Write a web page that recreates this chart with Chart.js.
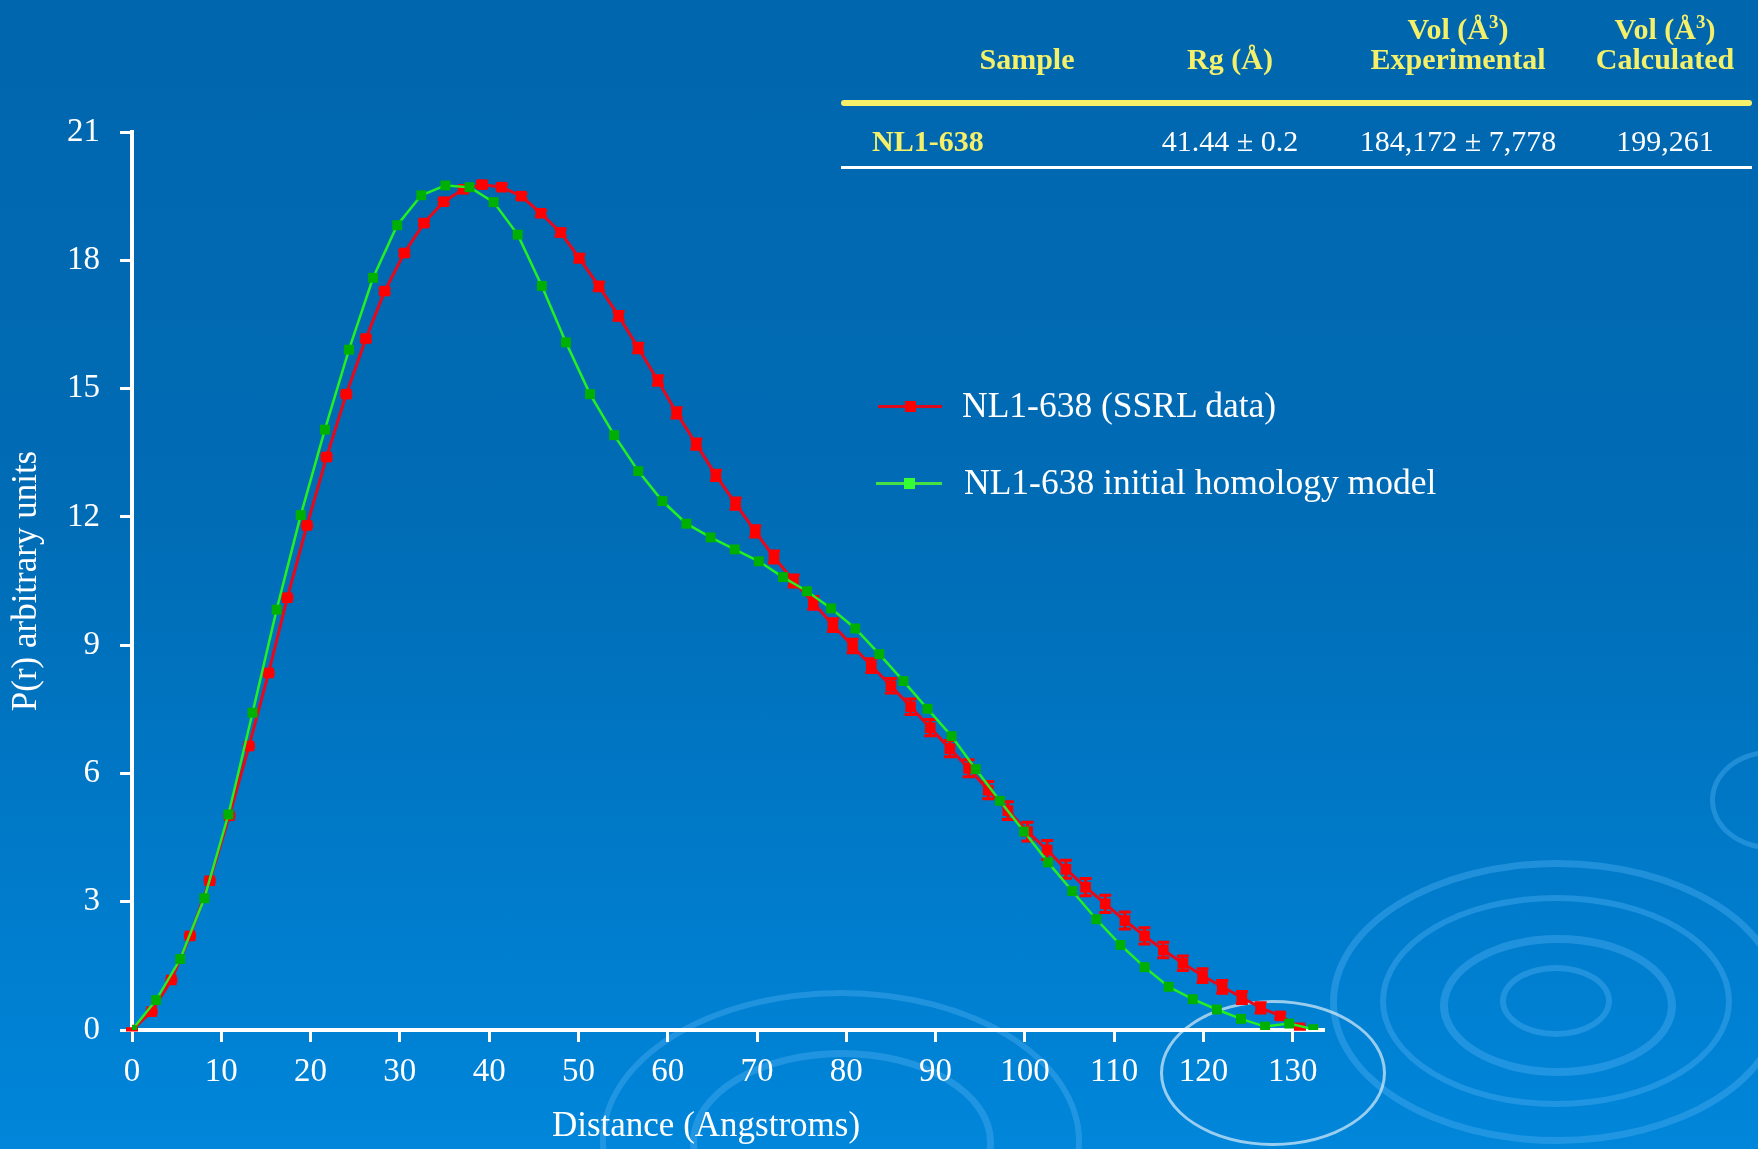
<!DOCTYPE html>
<html>
<head>
<meta charset="utf-8">
<script src="https://cdn.jsdelivr.net/npm/chart.js@4.4.0/dist/chart.umd.min.js"></script>
<style>
  body { margin: 0; }
  #wrap {
    position: relative; width: 1758px; height: 1149px; overflow: hidden;
    background: linear-gradient(180deg, #0066ae 0%, #006cb5 45%, #0086da 100%);
    font-family: "Liberation Serif", "DejaVu Serif", serif;
  }
  .ring { position: absolute; border-radius: 50%; border-style: solid; border-color: rgba(70, 170, 240, 0.45); }
  canvas { position: absolute; left: 0; top: 0; }
  .cell { position: absolute; font-size: 30px; line-height: 30px; white-space: nowrap; text-align: center; }
  .hd { color: #f4f06a; font-weight: bold; }
  .val { color: #fff; }
  .leg { position: absolute; color: #fff; font-size: 35.5px; line-height: 35px; white-space: nowrap; }
</style>
</head>
<body>
<div id="wrap">
  <!-- background ripples -->
  <div class="ring" style="left:1330px;top:860px;width:440px;height:270px;border-width:7px"></div>
  <div class="ring" style="left:1380px;top:895px;width:340px;height:200px;border-width:6px"></div>
  <div class="ring" style="left:1440px;top:935px;width:220px;height:125px;border-width:8px"></div>
  <div class="ring" style="left:1500px;top:965px;width:100px;height:60px;border-width:6px"></div>
  <div class="ring" style="left:600px;top:990px;width:470px;height:290px;border-width:6px"></div>
  <div class="ring" style="left:690px;top:1050px;width:290px;height:170px;border-width:7px"></div>
  <div class="ring" style="left:1160px;top:1000px;width:220px;height:140px;border-width:3px;border-color:rgba(255,255,255,0.6)"></div>
  <div class="ring" style="left:1710px;top:750px;width:110px;height:90px;border-width:5px"></div>

  <canvas id="c" width="1758" height="1149"></canvas>

  <!-- table -->
  <div class="cell hd" style="left:1358px;top:7px;width:200px">Vol (Å<span style="font-size:19px;vertical-align:11px">3</span>)</div>
  <div class="cell hd" style="left:1565px;top:7px;width:200px">Vol (Å<span style="font-size:19px;vertical-align:11px">3</span>)</div>
  <div class="cell hd" style="left:927px;top:44px;width:200px">Sample</div>
  <div class="cell hd" style="left:1130px;top:44px;width:200px">Rg (Å)</div>
  <div class="cell hd" style="left:1358px;top:44px;width:200px">Experimental</div>
  <div class="cell hd" style="left:1565px;top:44px;width:200px">Calculated</div>
  <div style="position:absolute;left:841px;top:100px;width:911px;height:6px;background:#f4f06a;border-radius:3px"></div>
  <div class="cell hd" style="left:872px;top:126px;text-align:left">NL1-638</div>
  <div class="cell val" style="left:1130px;top:126px;width:200px">41.44 ± 0.2</div>
  <div class="cell val" style="left:1358px;top:126px;width:200px">184,172 ± 7,778</div>
  <div class="cell val" style="left:1565px;top:126px;width:200px">199,261</div>
  <div style="position:absolute;left:841px;top:166px;width:911px;height:3px;background:#fff"></div>

  <!-- legend -->
  <div style="position:absolute;left:878px;top:405px;width:64px;height:3px;background:#dd0a1e"></div>
  <div style="position:absolute;left:905px;top:401px;width:11px;height:11px;background:#ff0000"></div>
  <div class="leg" id="leg0" style="left:962px;top:388px"></div>
  <div style="position:absolute;left:876px;top:482px;width:66px;height:3px;background:#44e044"></div>
  <div style="position:absolute;left:904px;top:478px;width:11px;height:11px;background:#33ff33"></div>
  <div class="leg" id="leg1" style="left:964px;top:465px"></div>
</div>

<script>
// P(r) distance distribution
const seriesNames = ['NL1-638 (SSRL data)', 'NL1-638 initial homology model'];

// SSRL data (red) with error bars
const distRed = [0, 2.2, 4.4, 6.5, 8.7, 10.9, 13.1, 15.3, 17.4, 19.6, 21.8, 24.0, 26.2, 28.3, 30.5,
  32.7, 34.9, 37.1, 39.2, 41.4, 43.6, 45.8, 48.0, 50.1, 52.3, 54.5, 56.7, 58.9, 61.0, 63.2,
  65.4, 67.6, 69.8, 71.9, 74.1, 76.3, 78.5, 80.7, 82.8, 85.0, 87.2, 89.4, 91.6, 93.7, 95.9,
  98.1, 100.3, 102.5, 104.6, 106.8, 109.0, 111.2, 113.4, 115.5, 117.7, 119.9, 122.1, 124.3, 126.4, 128.6, 130.8];
const prRed = [0, 0.43, 1.17, 2.20, 3.49, 5.01, 6.64, 8.35, 10.11, 11.80, 13.40, 14.87, 16.17, 17.28, 18.17,
  18.87, 19.37, 19.66, 19.77, 19.71, 19.50, 19.10, 18.65, 18.05, 17.39, 16.70, 15.95, 15.19, 14.43, 13.70,
  12.97, 12.31, 11.66, 11.06, 10.50, 9.99, 9.47, 8.98, 8.52, 8.05, 7.56, 7.07, 6.58, 6.12, 5.61,
  5.13, 4.64, 4.21, 3.76, 3.34, 2.95, 2.56, 2.20, 1.87, 1.56, 1.27, 1.01, 0.76, 0.52, 0.33, 0.05];
const errRed = [0.03, 0.03, 0.03, 0.03, 0.03, 0.03, 0.03, 0.03, 0.03, 0.03, 0.04, 0.04, 0.05, 0.05, 0.05,
  0.05, 0.05, 0.05, 0.06, 0.06, 0.06, 0.07, 0.08, 0.09, 0.10, 0.10, 0.11, 0.11, 0.12, 0.12,
  0.12, 0.13, 0.13, 0.14, 0.14, 0.15, 0.15, 0.16, 0.16, 0.17, 0.18, 0.19, 0.19, 0.20, 0.20,
  0.21, 0.22, 0.22, 0.21, 0.20, 0.20, 0.20, 0.19, 0.18, 0.17, 0.16, 0.15, 0.14, 0.12, 0.06, 0.03];

// initial homology model (green)
const distModel = [0, 2.7, 5.4, 8.1, 10.8, 13.5, 16.2, 18.9, 21.6, 24.3, 27.0, 29.7, 32.4, 35.1, 37.8,
  40.5, 43.2, 45.9, 48.6, 51.3, 54.0, 56.7, 59.4, 62.1, 64.8, 67.5, 70.2, 72.9, 75.6, 78.3,
  81.0, 83.7, 86.4, 89.1, 91.8, 94.5, 97.2, 99.9, 102.6, 105.3, 108.0, 110.7, 113.4, 116.1, 118.8,
  121.5, 124.2, 126.9, 129.6, 132.3];
const prModel = [0, 0.70, 1.66, 3.08, 5.04, 7.42, 9.83, 12.04, 14.04, 15.91, 17.59, 18.82, 19.52, 19.75, 19.71,
  19.36, 18.60, 17.40, 16.08, 14.87, 13.91, 13.07, 12.37, 11.84, 11.52, 11.24, 10.96, 10.59, 10.26, 9.86,
  9.39, 8.79, 8.16, 7.51, 6.87, 6.10, 5.36, 4.64, 3.92, 3.25, 2.59, 1.99, 1.47, 1.01, 0.72,
  0.48, 0.26, 0.08, 0.15, 0.02];

const xMax = 133.5;
const yMax = 21;

document.getElementById('leg0').textContent = seriesNames[0];
document.getElementById('leg1').textContent = seriesNames[1];

Chart.defaults.font.family = '"Liberation Serif", "DejaVu Serif", serif';
Chart.defaults.color = '#ffffff';

// vertical error bars with caps on the SSRL series
const errorBars = {
  id: 'errorBars',
  beforeDatasetsDraw(chart) {
    const { ctx, scales: { x, y } } = chart;
    ctx.save();
    ctx.strokeStyle = '#ff0000';
    ctx.lineWidth = 3;
    distRed.forEach((r, i) => {
      const px = x.getPixelForValue(r);
      const hi = y.getPixelForValue(prRed[i] + errRed[i]);
      const lo = y.getPixelForValue(Math.max(0, prRed[i] - errRed[i]));
      ctx.beginPath();
      ctx.moveTo(px, hi); ctx.lineTo(px, lo);
      ctx.moveTo(px - 6, hi); ctx.lineTo(px + 6, hi);
      ctx.moveTo(px - 6, lo); ctx.lineTo(px + 6, lo);
      ctx.stroke();
    });
    ctx.restore();
  }
};

// x axis title sits a bit left of the axis centre in the original
const xTitle = {
  id: 'xTitle',
  afterDraw(chart) {
    const ctx = chart.ctx;
    ctx.save();
    ctx.font = '35px "Liberation Serif"';
    ctx.fillStyle = '#ffffff';
    ctx.textAlign = 'center';
    ctx.textBaseline = 'middle';
    ctx.fillText('Distance (Angstroms)', 706, 1127);
    ctx.restore();
  }
};

new Chart(document.getElementById('c'), {
  type: 'line',
  data: {
    datasets: [
      {
        label: seriesNames[0],
        data: distRed.map((r, i) => ({ x: r, y: prRed[i] })),
        borderColor: '#e8081c',
        borderWidth: 3,
        backgroundColor: '#ff0000',
        pointStyle: 'rect',
        pointRadius: 7.5,
        pointBorderWidth: 0,
        tension: 0,
        order: 2
      },
      {
        label: seriesNames[1],
        data: distModel.map((r, i) => ({ x: r, y: prModel[i] })),
        borderColor: '#22f022',
        borderWidth: 2.5,
        backgroundColor: '#00b000',
        pointStyle: 'rect',
        pointRadius: 7,
        pointBorderWidth: 0,
        tension: 0,
        order: 1
      }
    ]
  },
  options: {
    responsive: false,
    animation: false,
    devicePixelRatio: 1,
    layout: { padding: { left: 0, top: 132, right: 434, bottom: 0 } },
    plugins: { legend: { display: false }, tooltip: { enabled: false } },
    scales: {
      x: {
        type: 'linear',
        min: 0,
        max: xMax,
        afterFit: s => { s.height = 119; },
        afterBuildTicks: s => { s.ticks = s.ticks.filter(t => Math.abs(t.value % 10) < 1e-6); },
        border: { display: true, color: '#ffffff', width: 4 },
        grid: { drawOnChartArea: false, drawTicks: true, tickLength: 12, tickWidth: 3, tickColor: '#ffffff', color: '#ffffff' },
        ticks: { stepSize: 10, includeBounds: false, padding: 11, maxRotation: 0, autoSkip: false, font: { size: 33 }, color: '#ffffff' }
      },
      y: {
        min: 0,
        max: yMax,
        afterFit: s => { s.width = 132; },
        border: { display: true, color: '#ffffff', width: 4 },
        grid: { drawOnChartArea: false, drawTicks: true, tickLength: 12, tickWidth: 3, tickColor: '#ffffff', color: '#ffffff' },
        ticks: { stepSize: 3, padding: 20, font: { size: 33 }, color: '#ffffff' },
        title: { display: true, text: 'P(r) arbitrary units', color: '#ffffff', font: { size: 35 }, padding: { top: 6, bottom: 0 } }
      }
    }
  },
  plugins: [errorBars, xTitle]
});
</script>
</body>
</html>
